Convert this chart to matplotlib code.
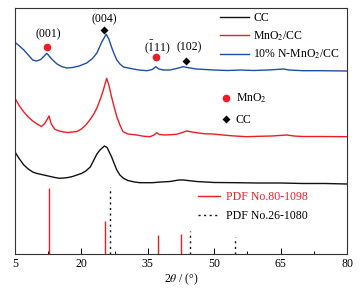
import numpy as np
import matplotlib
matplotlib.use("Agg")
import matplotlib.pyplot as plt
from matplotlib.lines import Line2D

plt.rcParams['font.family'] = ['Liberation Serif', 'DejaVu Serif']
plt.rcParams['mathtext.fontset'] = 'stix'

# ---- data (2theta in degrees, intensity in arbitrary units incl. stacking offset) ----
theta_blue = [5, 6, 7, 8, 9, 9.8, 10.8, 11.6, 12.2, 12.8, 13.5, 14.5, 15.5, 16.7, 18, 19.5, 21.2,
              22.5, 23.5, 24.6, 25.6, 26.2, 26.8, 27.4, 28, 28.7, 29.5, 31.7, 33, 34.8, 36, 36.8,
              37.5, 38.5, 40, 41.5, 43, 44.5, 46, 48, 50, 53, 56, 59, 62, 64, 65.6, 67, 70, 74, 80]
int_blue = [211.7, 208, 204, 199, 194, 193, 194.5, 198, 200.7, 197.5, 194, 190, 187.5, 186, 186.5,
            188, 191, 195.5, 201, 212, 219.7, 215, 207, 200, 194, 190, 187, 185, 184, 183.3, 184.5,
            187.3, 185, 184, 184, 185.5, 187.3, 186, 185, 184.5, 184, 183.5, 184, 183.5, 184, 184.5,
            185, 184, 183.3, 183.3, 183]

theta_red = [5, 6, 7, 8, 9, 10, 11, 11.6, 12.2, 12.7, 13.2, 14, 15, 16, 17, 18, 19, 20, 21, 21.9,
             22.8, 23.5, 24.2, 24.9, 25.7, 26.2, 26.8, 27.4, 28, 28.7, 29.4, 30.5, 32.5, 34, 35.5,
             36.4, 37, 37.6, 39, 40.5, 41.5, 42.8, 43.8, 45, 46.5, 48, 49.7, 52, 54, 57.3, 60, 63,
             66.4, 68, 70, 74, 80]
int_red = [155.7, 148, 142, 137, 133, 130, 127.5, 130, 134, 138, 130, 124.7, 123, 122, 121.5, 122,
           122.5, 125, 129, 134, 140, 146, 154, 163, 175.7, 169, 157.3, 147, 137.3, 129, 122.3, 120,
           119, 117.8, 117.3, 119, 121.3, 119.5, 119, 119.4, 119.7, 121.5, 123, 122, 121, 120.2,
           120, 119, 118.2, 117.3, 117.7, 118, 119, 118, 117.5, 117.5, 117.3]

theta_black = [5, 6, 7, 8, 9, 10, 11, 12, 13, 14, 15, 16, 17, 18, 19, 20, 21, 22, 22.7, 23.5, 24.2,
               25.2, 25.8, 26.8, 27.4, 28, 28.7, 29.5, 30.5, 32, 33.2, 36, 38, 40, 42, 43, 44, 46,
               48, 50, 55, 60, 65, 70, 75, 80]
int_black = [102, 95, 89, 85, 82, 80.5, 79.5, 78.5, 77.5, 76.5, 75.7, 76, 76.5, 77.5, 79, 80.5, 83,
             87, 93, 100, 104, 108, 106.5, 97.3, 90.5, 84, 79, 75.7, 73.5, 72, 71.3, 71.3, 72, 72.5,
             74, 74, 73.5, 72.5, 72, 71.5, 71.3, 71, 71, 70.5, 70.5, 70]

pdf_mno2_pos = [12.7, 25.3, 37.2, 42.5]
pdf_mno2_int = [66, 33, 19, 20]
pdf_cc_pos = [26.5, 44.5, 54.7]
pdf_cc_int = [67, 23, 17]

series_labels = ['CC', 'MnO$_2$/CC', '10% N-MnO$_2$/CC']
pdf_labels = ['PDF No.80-1098', 'PDF No.26-1080']
phase_labels = ['MnO$_2$', 'CC']
xticks = [5, 20, 35, 50, 65, 80]

c_black = '#111111'
c_red = '#ee1c24'
c_blue = '#1f4ea3'

fig = plt.figure(figsize=(3.64, 2.89), dpi=100)
ax = fig.add_axes([15/364, 35/289, 332/364, 246/289])

l_black, = ax.plot(theta_black, int_black, color=c_black, lw=1.0)
l_red, = ax.plot(theta_red, int_red, color=c_red, lw=1.0)
l_blue, = ax.plot(theta_blue, int_blue, color=c_blue, lw=1.0)

ax.vlines(pdf_mno2_pos, 0, pdf_mno2_int, color=c_red, lw=1.0)
ax.vlines(pdf_cc_pos, 0, pdf_cc_int, color=c_black, lw=1.0, linestyles=(0, (1.5, 2.5)))

# peak annotations
fs = 8.5
ax.text(12.45, 220, '(001)', ha='center', va='center', fontsize=fs)
ax.plot(12.2, 207.5, 'o', color=c_red, ms=5.5, mec='none')
ax.text(25.1, 235, '(004)', ha='center', va='center', fontsize=fs)
ax.plot(25.1, 224, 'D', color='black', ms=3.8, mec='none')
ax.text(37.1, 206.3, r'($\bar{1}$11)', ha='center', va='center', fontsize=fs)
ax.plot(36.9, 196.7, 'o', color=c_red, ms=5.5, mec='none')
ax.text(44.3, 206.3, '(102)', ha='center', va='center', fontsize=fs)
ax.plot(43.6, 193, 'D', color='black', ms=3.8, mec='none')

ax.set_xlim(5, 80)
ax.set_ylim(0, 246)
ax.set_xticks(xticks)
ax.set_xticks([12.5, 27.5, 42.5, 57.5, 72.5], minor=True)
ax.set_yticks([])
ax.tick_params(axis='x', direction='in', length=4, width=0.7, labelsize=fs, pad=3)
ax.tick_params(axis='x', which='minor', direction='in', length=2, width=0.7)
for s in ax.spines.values():
    s.set_linewidth(0.8)
    s.set_color('#333333')
ax.set_xlabel(r'2$\theta$ / (°)', fontsize=fs, labelpad=1)

leg1 = ax.legend([l_black, l_red, l_blue], series_labels, loc='upper left',
                 bbox_to_anchor=(0.618, 0.985), frameon=False, fontsize=fs,
                 handlelength=2.4, handletextpad=0.4, labelspacing=0.45,
                 borderpad=0, borderaxespad=0)
ax.add_artist(leg1)

h_phase = [Line2D([], [], ls='none', marker='o', color=c_red, ms=5.5, mec='none'),
           Line2D([], [], ls='none', marker='D', color='black', ms=3.8, mec='none')]
leg2 = ax.legend(h_phase, phase_labels, loc='upper left', bbox_to_anchor=(0.622, 0.66),
                 frameon=False, fontsize=fs, handlelength=0.8, handletextpad=0.4,
                 labelspacing=0.75, borderpad=0, borderaxespad=0)
ax.add_artist(leg2)

h_pdf = [Line2D([], [], color=c_red, lw=1.0),
         Line2D([], [], color=c_black, lw=1.0, ls=(0, (1.5, 2.5)))]
leg3 = ax.legend(h_pdf, pdf_labels, loc='upper left', bbox_to_anchor=(0.55, 0.255),
                 frameon=False, fontsize=fs, handlelength=1.9, handletextpad=0.5,
                 labelspacing=0.6, borderpad=0, borderaxespad=0)
leg3.get_texts()[0].set_color(c_red)

fig.savefig('out.png', dpi=100)
